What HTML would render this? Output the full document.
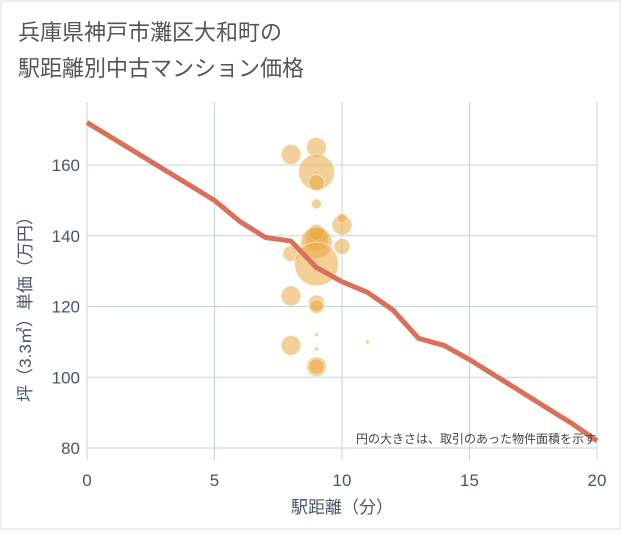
<!DOCTYPE html>
<html><head><meta charset="utf-8"><style>
body{margin:0;background:#fff}
svg text{font-family:"Liberation Sans","Noto Sans CJK JP",sans-serif}
</style></head><body>
<svg width="621" height="530" id="c">
<rect x="1" y="1" width="619" height="528" fill="#fff" stroke="#ddd"/>
<text x="18" y="40" font-size="22" fill="#555">兵庫県神戸市灘区大和町の</text>
<text x="18" y="76" font-size="22" fill="#555">駅距離別中古マンション価格</text>
<g id="grid"></g>
<g id="bubbles"></g>
<g id="line"></g>
<g id="ticks"></g>
<text x="596" y="443" font-size="12" fill="#444" text-anchor="end">円の大きさは、取引のあった物件面積を示す</text>
<text x="342" y="513" font-size="17" fill="#4a5568" text-anchor="middle">駅距離（分）</text>
<text transform="translate(31,305) rotate(-90)" font-size="17" fill="#4a5568" text-anchor="middle">坪（3.3㎡）単価（万円）</text>
</svg>
<script>
const xTicks=[0,5,10,15,20];
const yTicks=[80,100,120,140,160];
const lineX=[0,5,6,7,8,9,10,11,12,13,14,15,16,17,18,19,20];
const lineY=[172,150,144,139.5,138.5,131,127,124,119,111,109,105,100.5,96,91.5,87,82];
const bx=[8,9,9,9,9,10,10,9,9,9,9,10,8,9,8,9,9,9,9,11,8,9,9];
const by=[163,165,158,155,149,143,145,140,139,141,138,137,135,132,123,121,120,112,108,110,109,103,103];
const br=[10,10,18,8,5,10,5,10,12,8,16,8,8,22,10,8,7,2,2,2,10,10,8];
const X0=87,X1=597,Y0=165,Y1=448;
const sx=v=>X0+(v-0)/20*(X1-X0);
const sy=v=>Y0+(160-v)/80*(Y1-Y0);
const NS="http://www.w3.org/2000/svg";
function mk(t,a,p){const e=document.createElementNS(NS,t);for(const k in a)e.setAttribute(k,a[k]);p.appendChild(e);return e;}
const g=document.getElementById('grid'),tk=document.getElementById('ticks');
xTicks.forEach(v=>{const l=mk('line',{x1:sx(v),x2:sx(v),y1:102,y2:460,stroke:'#c8d3e0'},g);


const t=mk('text',{x:sx(v),y:486,'font-size':17,fill:'#4a5568','text-anchor':'middle'},tk);t.textContent=v;

});
yTicks.forEach(v=>{const l=mk('line',{x1:X0,x2:X1,y1:sy(v),y2:sy(v),stroke:'#c8d3e0'},g);


const t=mk('text',{x:X0-7,y:sy(v)+6,'font-size':17,fill:'#4a5568','text-anchor':'end'},tk);t.textContent=v;

});
const b=document.getElementById('bubbles');
bx.forEach((v,i)=>{const c=mk('circle',{cx:sx(v),cy:sy(by[i]),r:br[i],fill:'rgba(235,170,70,0.55)',stroke:'rgba(255,255,255,0.5)'},b);

});
const p=mk('polyline',{points:lineX.map((v,i)=>sx(v)+','+sy(lineY[i])).join(' '),fill:'none',stroke:'#d9705a','stroke-width':5,'stroke-linejoin':'round'},document.getElementById('line'));


</script>
</body></html>
